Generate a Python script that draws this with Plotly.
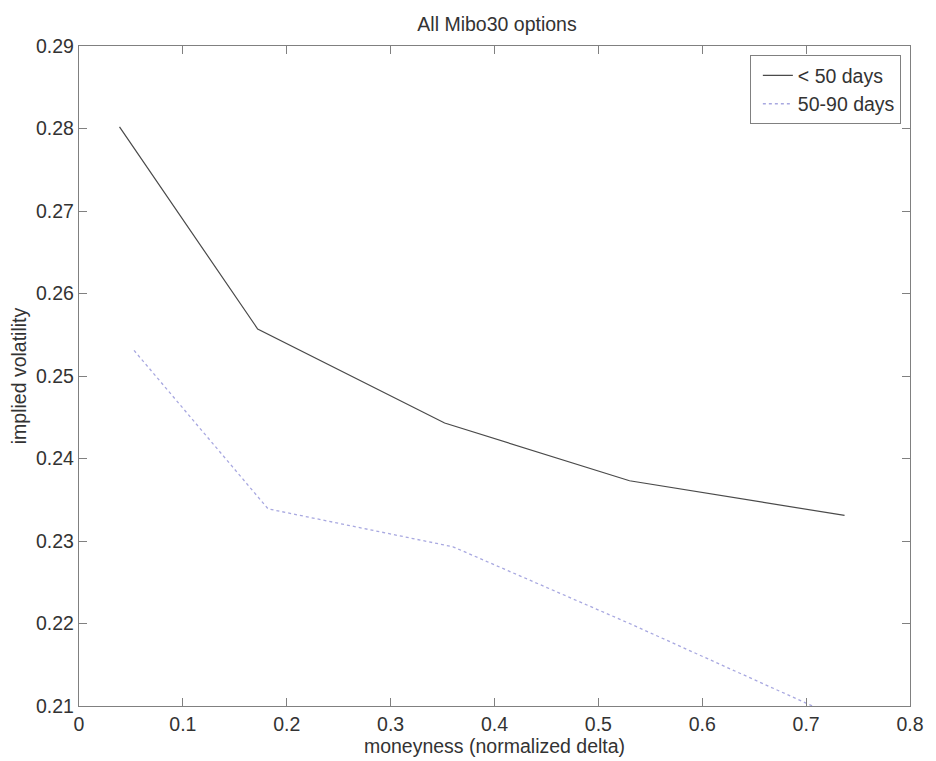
import plotly.graph_objects as go

# Data
short_x = [0.039, 0.172, 0.352, 0.530, 0.737]
short_y = [0.2802, 0.2557, 0.2443, 0.2373, 0.2331]

mid_x = [0.053, 0.182, 0.360, 0.530, 0.715]
mid_y = [0.2531, 0.2339, 0.2293, 0.2200, 0.2095]

series_names = ["< 50 days", "50-90 days"]
x_ticks = [0, 0.1, 0.2, 0.3, 0.4, 0.5, 0.6, 0.7, 0.8]
y_ticks = [0.21, 0.22, 0.23, 0.24, 0.25, 0.26, 0.27, 0.28, 0.29]

FONT = "Liberation Sans, Arial, Helvetica, sans-serif"
FS = 19.5

fig = go.Figure()
fig.add_trace(go.Scatter(x=short_x, y=short_y, mode="lines", name=series_names[0],
                         line=dict(color="#4a4a4a", width=1.2)))
fig.add_trace(go.Scatter(x=mid_x, y=mid_y, mode="lines", name=series_names[1],
                         line=dict(color="#a8a8e0", width=1.3, dash="dot")))

axis_common = dict(showline=True, linecolor="#808080", linewidth=1.3, mirror="ticks",
                   ticks="inside", ticklen=8, tickcolor="#808080", showgrid=False,
                   zeroline=False, tickfont=dict(size=FS, color="#333333", family=FONT))

fig.update_layout(
    width=936, height=761,
    margin=dict(l=79, r=18, t=46, b=51),
    paper_bgcolor="white", plot_bgcolor="white",
    font=dict(family=FONT, color="#333333"),
    title=dict(text="All Mibo30 options", x=0.531, xanchor="center", y=0.968, yanchor="middle",
               font=dict(size=FS, color="#333333", family=FONT)),
    xaxis=dict(range=[0, 0.8], tickvals=x_ticks, ticktext=[f"{v:g}" for v in x_ticks],
               title=dict(text="moneyness (normalized delta)", standoff=1,
                          font=dict(size=FS, color="#333333", family=FONT)),
               **axis_common),
    yaxis=dict(range=[0.21, 0.29], tickvals=y_ticks, ticktext=[f"{v:.2f}" for v in y_ticks],
               title=dict(text="implied volatility", standoff=4,
                          font=dict(size=FS, color="#333333", family=FONT)),
               **axis_common),
    legend=dict(x=0.989, xanchor="right", y=0.986, yanchor="top",
                bgcolor="white", bordercolor="#808080", borderwidth=1,
                font=dict(size=FS, color="#333333", family=FONT),
                tracegroupgap=0, itemwidth=30, indentation=7),
    showlegend=True,
)

fig.write_html("out.html", config={"displayModeBar": False},
               post_script="document.body.style.margin='0';")
